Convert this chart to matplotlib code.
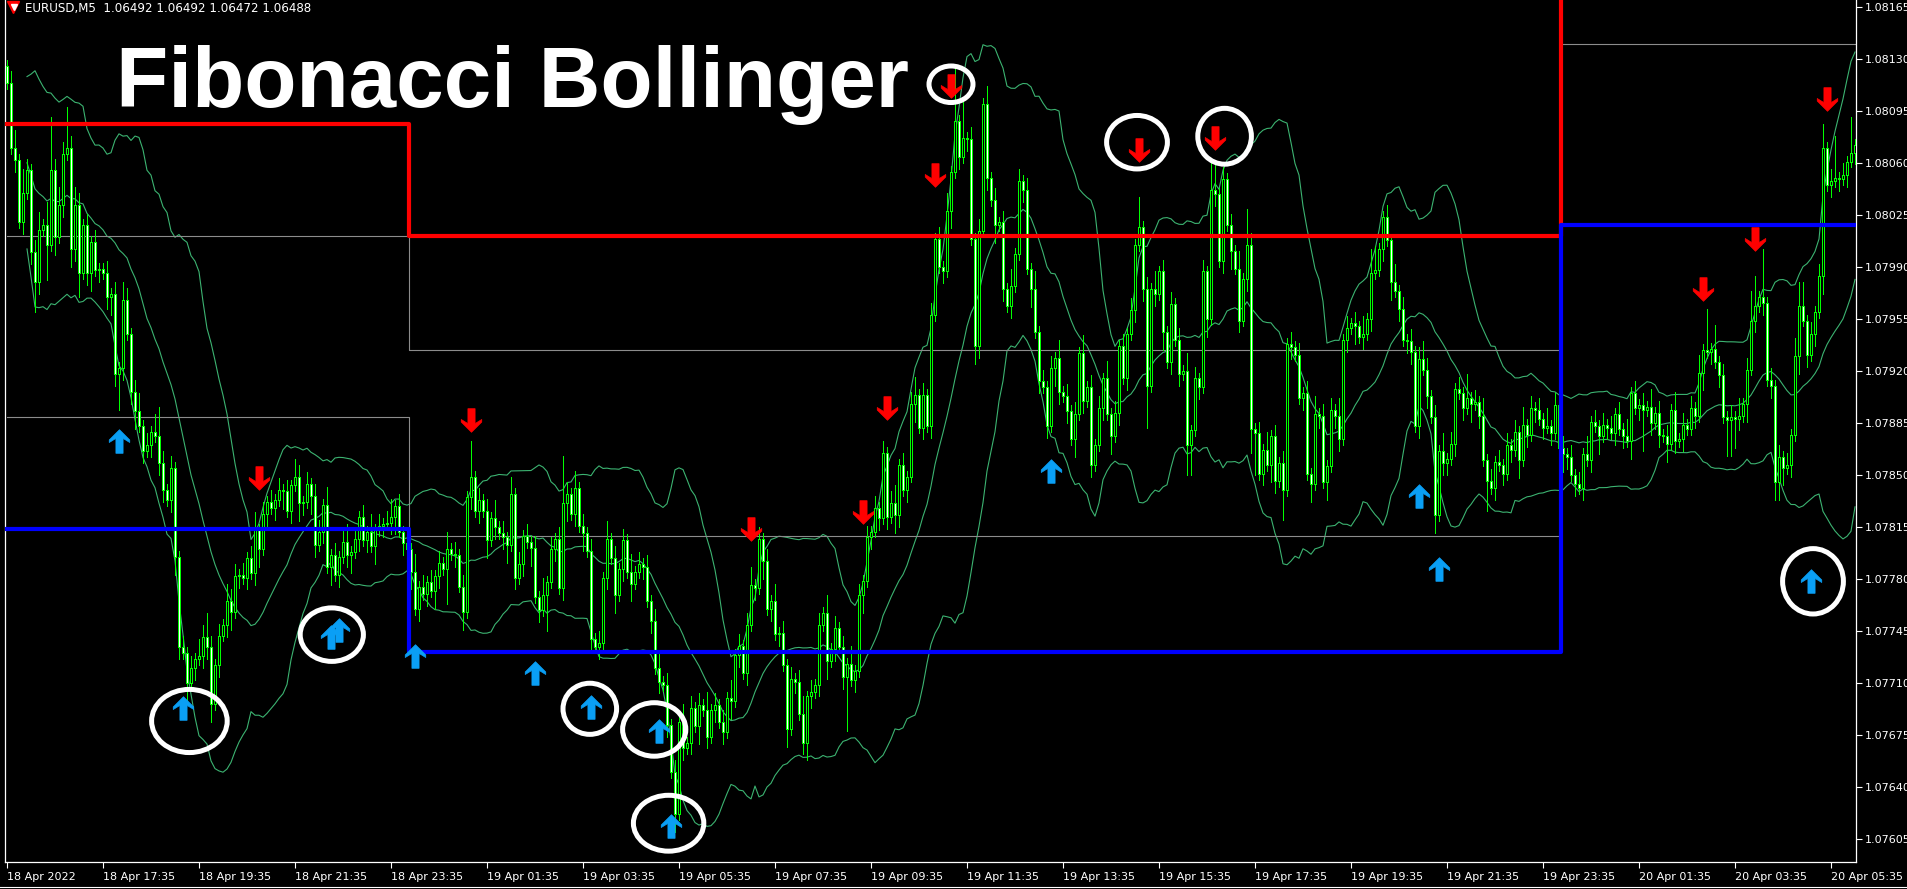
import numpy as np
import pandas as pd
import matplotlib
matplotlib.use("Agg")
import matplotlib.pyplot as plt
from matplotlib.path import Path
from matplotlib.patches import Ellipse
from matplotlib.lines import Line2D

# EURUSD M5, 18 Apr 15:35 -> 20 Apr 06:05
# prices are in points (0.00001) above BASE
BASE = 1.07600
open0 = 525
closes = [
    # 18 Apr afternoon
    514, 470, 462, 420, 440, 455, 400, 380, 415, 418, 405, 455, 410, 432, 466, 470, 402, 432, 386, 418,
    386, 407, 388, 389, 386, 370, 372, 318, 322, 368, 345, 306, 293, 283, 266, 270, 279, 276, 258, 240,
    233, 255, 195, 134, 130, 110, 120, 126, 128, 141, 134, 96, 122, 142, 149, 165, 158, 182, 183, 181,
    194, 184, 213, 200, 224, 232, 228, 233, 240, 239, 226, 243, 249, 231, 232, 244, 236, 203,
    # 18 Apr evening / 19 Apr night
    212, 230, 188, 196, 183, 195, 205, 196, 198, 207, 222, 206, 212, 202, 213, 216, 217, 218, 222, 229,
    212, 204, 200, 185, 160, 175, 170, 178, 172, 182, 191, 187, 200, 197, 196, 175, 158, 235, 249, 226,
    233, 226, 206, 221, 215, 211, 208, 203, 237, 181, 190, 209, 205, 201, 168, 159, 169, 178, 200, 207,
    174, 231, 237, 224, 241, 216, 211, 199, 140, 134, 137, 181, 207, 194, 169, 187, 206, 185, 177, 185,
    190,
    # 19 Apr morning
    188, 165, 152, 120, 111, 109, 82, 50, 22, 84, 66, 70, 93, 81, 95, 92, 74, 92, 95, 84,
    77, 100, 98, 129, 135, 117, 149, 176, 174, 207, 192, 160, 165, 143, 144, 122, 79, 113, 111, 89,
    70, 101, 104, 109, 149, 157, 125, 133, 147, 134, 114, 123, 112, 118, 169, 179, 208, 212, 228, 221,
    265, 222, 231, 223,
    # 19 Apr midday
    257, 240, 249, 298, 304, 282, 304, 283, 358, 409, 390, 387, 428, 454, 488, 464, 477, 476, 409, 337,
    414, 500, 450, 435, 418, 420, 375, 364, 377, 399, 448, 442, 389, 375, 346, 313, 309, 283, 322, 329,
    306, 303, 293, 274, 291, 332, 300, 309, 257, 270, 295, 315, 291, 276, 292, 337, 315, 345, 361, 405,
    417, 375, 310, 375, 372, 387, 346, 326, 365, 341, 318, 320, 270, 280, 315, 309, 387, 355, 442, 439,
    394, 449, 418, 401, 389, 354, 382, 405, 281, 278, 251, 267, 257, 276, 246, 258, 240, 338, 336, 331,
    # 19 Apr evening
    302, 305, 251, 244, 291, 290, 245, 256, 294, 290, 274, 341, 349, 352, 350, 343, 345, 355, 386, 388,
    402, 424, 408, 380, 374, 362, 341, 340, 333, 283, 328, 321, 303, 289, 223, 266, 258, 261, 271, 308,
    305, 295, 302, 298, 299, 290, 260, 246, 241, 259, 257, 251, 270, 267, 279, 260, 284, 277, 295, 294,
    288, 282, 283, 278, 297, 268, 264, 262, 250, 244, 241, 264, 260, 286, 283, 276, 284, 282,
    # 20 Apr
    278, 291, 281, 276, 273, 305, 295, 297, 294, 296, 285, 292, 277, 276, 271, 294, 273, 274, 284, 281,
    295, 290, 319, 334, 333, 335, 326, 317, 289, 287, 289, 288, 290, 298, 321, 354, 364, 370, 366, 314,
    310, 245, 262, 255, 257, 277, 330, 364, 354, 331, 345, 360, 384, 470, 445, 448, 450, 449, 452, 461,
    467, 472,
]
# wick lengths, one digit per bar, unit = 4 points
wick_up = (
    "1231421231" "4923272321" "2121121213" "2123121352" "1211212132" "4212132212" "1231212121" "21321212"
    "2131212312" "1213121231" "2121312121" "2131212161" "2121312131" "2121213121" "2821312121" "2131212131" "2"
    "1212312121" "3121213121" "2131212312" "1213121212" "3121213121" "2131212121" "2123"
    "1212312121" "2131916121" "2131212131" "2121312121" "3121213121" "2131212121" "5121312121" "2131212155"
    "1212131621" "2131212121"
    "2121312121" "3121213144" "1121312121" "2321213121" "2141213121" "2121213121" "2131212121" "21312121"
    "2121312121" "3121213121" "2131714121" "2131255181" "2121213441" "2124127121" "61"
)
wick_dn = (
    "1121212521" "6131213241" "2312123262" "1231212122" "1232131212" "2312123121" "2123121213" "12132132"
    "1213121231" "2121312123" "1213121213" "2161213121" "2131212312" "1213121612" "1231213121" "2121312131" "1"
    "2121212131" "2121312121" "2131212121" "3121213121" "2321213121" "2912131212" "1213"
    "2121312121" "1213121213" "2121312121" "1213121213" "2121312121" "1213121212" "1271213121" "2155121312"
    "1213121247" "1213215121"
    "1213121312" "2121312121" "1213121221" "2121312212" "1213121512" "1212131212" "1212193212" "12121312"
    "1212131271" "2121312121" "1213121216" "6521312121" "2333121312" "1213121212" "12"
)

# daily levels (points above BASE): day 1 = 18 Apr, day 2 = 19 Apr, day 3 = 20 Apr
day_first_bar = [0, 101, 389]
red_level = [486, 411, 640]
blue_level = [214, 131, 418]
gray_high = [411, 334, 540]
gray_low = [289, 209, np.nan]

buy_bar = [28, 44, 81, 83, 102, 132, 146, 163, 166, 261, 353, 358, 451]
buy_pts = [273, 93, 141, 146, 128, 117, 94, 78, 14, 253, 236, 187, 179]
sell_bar = [63, 116, 186, 214, 220, 232, 236, 283, 302, 424, 437, 455]
sell_pts = [248, 287, 214, 225, 295, 452, 512, 469, 477, 375, 409, 503]

# white rings drawn on the screenshot: bar, points, width (bars), height (points)
rings = [(45.6, 84.5, 18.9, 42.5), (81.2, 142.6, 15.8, 36), (145.7, 92.7, 13.4, 34.4),
         (161.8, 78.8, 15.8, 36), (165.4, 15.7, 17.6, 37.6), (236, 513, 11, 24.6),
         (282.5, 474, 15.2, 36), (304.4, 478, 13.4, 37.6), (451.5, 178.5, 15.2, 44)]

xtick_labels = ["18 Apr 2022", "18 Apr 17:35", "18 Apr 19:35", "18 Apr 21:35", "18 Apr 23:35",
                "19 Apr 01:35", "19 Apr 03:35", "19 Apr 05:35", "19 Apr 07:35", "19 Apr 09:35",
                "19 Apr 11:35", "19 Apr 13:35", "19 Apr 15:35", "19 Apr 17:35", "19 Apr 19:35",
                "19 Apr 21:35", "19 Apr 23:35", "20 Apr 01:35", "20 Apr 03:35", "20 Apr 05:35"]

n = len(closes)
x = np.arange(n)
c = BASE + np.array(closes) / 1e5
o = np.r_[BASE + open0 / 1e5, c[:-1]]
up = np.array([int(d) for d in wick_up[:n]]) * 4e-5
dn = np.array([int(d) for d in wick_dn[:n]]) * 4e-5
hi = np.maximum(o, c) + up
lo = np.minimum(o, c) - dn

W, H = 1907, 889
fig = plt.figure(figsize=(W / 100, H / 100), dpi=100, facecolor="black")
ax = fig.add_axes([5 / W, 27 / H, 1851 / W, 862 / H], facecolor="black")

# bollinger bands
s = pd.Series(c)
mid = s.rolling(20, min_periods=6).mean()
sd = s.rolling(20, min_periods=6).std(ddof=0)
for band in (mid + 2 * sd, mid, mid - 2 * sd):
    ax.plot(x, band, color="#3cb371", lw=0.8, zorder=1)

# per-bar daily levels
day = np.searchsorted(day_first_bar, x, side="right") - 1
def lvl(vals):
    return BASE + np.array(vals, dtype=float)[day] / 1e5

ax.plot(x, lvl(gray_high), color="#8c8c8c", lw=0.8, drawstyle="steps-mid", zorder=2)
ax.plot(x, lvl(gray_low), color="#8c8c8c", lw=0.8, drawstyle="steps-mid", zorder=2)

# candles
green = "#00ff00"
ax.vlines(x, lo, hi, color=green, lw=0.72, zorder=3, antialiased=False)
bull = c >= o
ax.bar(x[bull], (c - o)[bull], bottom=o[bull], width=0.5, color="black",
       edgecolor=green, lw=0.65, zorder=4, antialiased=False)
ax.bar(x[~bull], (o - c)[~bull], bottom=c[~bull], width=0.5, color="white",
       edgecolor=green, lw=0.65, zorder=4, antialiased=False)

ax.plot(x, lvl(red_level), color="#ff0000", lw=3.0, drawstyle="steps-mid", zorder=5)
ax.plot(x, lvl(blue_level), color="#0000ff", lw=3.0, drawstyle="steps-mid", zorder=5)

# signal arrows
shape = [(0, 0), (10, 10), (10, 12.5), (3.5, 8.5), (3.5, 23), (-3.5, 23), (-3.5, 8.5),
         (-10, 12.5), (-10, 10), (0, 0)]
up_arrow = Path([(px / 11.5, (11.5 - py) / 11.5) for px, py in shape], closed=True)
down_arrow = Path([(px / 11.5, -(11.5 - py) / 11.5) for px, py in shape], closed=True)
ax.plot(buy_bar, BASE + np.array(buy_pts) / 1e5, ls="none", marker=up_arrow, ms=17,
        mfc="#0a9ff5", mec="#0a9ff5", mew=0.5, zorder=6)
ax.plot(sell_bar, BASE + np.array(sell_pts) / 1e5, ls="none", marker=down_arrow, ms=17,
        mfc="#ff0000", mec="#ff0000", mew=0.5, zorder=6)

for b, p, w, h in rings:
    ax.add_patch(Ellipse((b, BASE + p / 1e5), w, h / 1e5, fill=False, ec="white", lw=3.6, zorder=7))

ax.set_xlim(-0.5, 462.25)
ax.set_ylim(1.075896, 1.081697)

yt = np.round(1.07605 + 0.00035 * np.arange(17), 5)
ax.yaxis.tick_right()
ax.set_yticks(yt)
ax.set_yticklabels([f"{v:.5f}" for v in yt])
ax.set_xticks(np.arange(0, 457, 24))
ax.set_xticklabels(xtick_labels)
for lab in ax.get_xticklabels():
    lab.set_horizontalalignment("left")
ax.tick_params(colors="white", labelsize=8, length=4, width=0.8, pad=2)
ax.tick_params(axis="x", pad=3)
for side in ("left", "bottom", "right"):
    ax.spines[side].set_color("white")
    ax.spines[side].set_linewidth(0.9)
ax.spines["top"].set_visible(False)

fig.add_artist(Line2D([0, 1], [1 - 886.5 / H] * 2, color="white", lw=0.8))

# header and title
fig.text(25 / W, 1 - 8.5 / H, "EURUSD,M5  1.06492 1.06492 1.06472 1.06488", color="white",
         fontsize=8.6, family="DejaVu Sans", va="center")
fig.add_artist(Line2D([13 / W], [1 - 7 / H], marker="v", ms=8, color="#ff0000", mec="#ff0000"))
fig.add_artist(Line2D([14 / W], [1 - 7 / H], marker="v", ms=4, color="white", mec="white"))
fig.text(116 / W, 1 - 107 / H, "Fibonacci Bollinger", color="white", fontsize=61.6,
         fontweight="bold", family="Liberation Sans", va="baseline", zorder=10)

fig.savefig("out.png", dpi=100, facecolor="black")
